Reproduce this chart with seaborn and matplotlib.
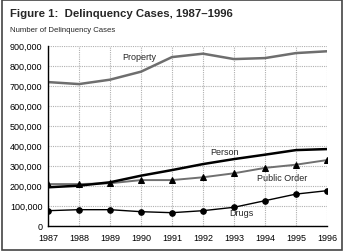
import pandas as pd
import matplotlib.pyplot as plt
import seaborn as sns
from matplotlib.patches import Rectangle
from matplotlib.ticker import FuncFormatter

# -----------------------------------
# Data
# -----------------------------------
years = [1987, 1988, 1989, 1990, 1991, 1992, 1993, 1994, 1995, 1996]
property_cases = [718000, 708000, 730000, 770000, 843000, 860000, 833000, 838000, 863000, 872000]
person_cases = [192000, 200000, 217000, 250000, 278000, 308000, 333000, 355000, 378000, 383000]
public_order_cases = [208000, 208000, 212000, 228000, 228000, 242000, 262000, 289000, 305000, 328000]
drug_cases = [75000, 80000, 80000, 70000, 65000, 75000, 92000, 125000, 158000, 175000]

df = pd.DataFrame({
    'Year': years,
    'Property': property_cases,
    'Person': person_cases,
    'PublicOrder': public_order_cases,
    'Drugs': drug_cases,
})

# -----------------------------------
# Style
# -----------------------------------
sns.set_style("white")
plt.rcParams['font.family'] = ['Liberation Sans', 'DejaVu Sans']

fig = plt.figure(figsize=(3.44, 2.53), dpi=100)
ax = fig.add_axes([0.1395, 0.104, 0.8111, 0.7115])

sns.lineplot(x='Year', y='Property', data=df, color='#6e6e6e', linewidth=1.8, ax=ax)
sns.lineplot(x='Year', y='PublicOrder', data=df, color='#707070', linewidth=1.4,
             marker='^', markersize=5, markerfacecolor='black', markeredgecolor='black', ax=ax)
sns.lineplot(x='Year', y='Person', data=df, color='black', linewidth=1.8, ax=ax)
sns.lineplot(x='Year', y='Drugs', data=df, color='black', linewidth=1.0,
             marker='o', markersize=4, markerfacecolor='black', markeredgecolor='black', ax=ax)

# -----------------------------------
# Axes
# -----------------------------------
ax.set_xlim(1987, 1996)
ax.set_ylim(0, 900000)
ax.set_xticks(years)
ax.set_yticks(range(0, 900001, 100000))
ax.yaxis.set_major_formatter(FuncFormatter(lambda v, p: f"{int(v):,}"))
ax.set_xlabel("")
ax.set_ylabel("")
ax.tick_params(labelsize=6.5, length=3, width=0.8, direction='inout', colors='black')
ax.tick_params(axis='x', pad=4)
ax.tick_params(axis='y', pad=2.5)

ax.grid(True, color='#b0b0b0', linestyle=(0, (1, 1)), linewidth=0.8)
ax.set_axisbelow(True)
for side in ['top', 'right']:
    ax.spines[side].set_visible(False)
for side in ['left', 'bottom']:
    ax.spines[side].set_color('black')
    ax.spines[side].set_linewidth(1.0)

# Series labels
ax.text(1989.4, 848000, "Property", fontsize=6.5, va='center')
ax.text(1992.25, 373000, "Person", fontsize=6.5, va='center')
ax.text(1993.75, 243000, "Public Order", fontsize=6.5, va='center')
ax.text(1992.85, 68000, "Drugs", fontsize=6.5, va='center')

# -----------------------------------
# Titles and frame
# -----------------------------------
fig.text(10 / 344, 1 - 14 / 253, "Figure 1:  Delinquency Cases, 1987\u20131996",
         fontsize=8.2, fontweight='bold', va='center')
fig.text(10 / 344, 1 - 31 / 253, "Number of Delinquency Cases", fontsize=5.6, va='center',
         family=['Liberation Sans Narrow', 'Liberation Sans', 'DejaVu Sans'])
fig.patches.append(Rectangle((0.006, 0.006), 0.988, 0.99, transform=fig.transFigure,
                             fill=False, edgecolor='#444444', linewidth=1.2))

plt.savefig("out.png", dpi=100)
plt.close()
